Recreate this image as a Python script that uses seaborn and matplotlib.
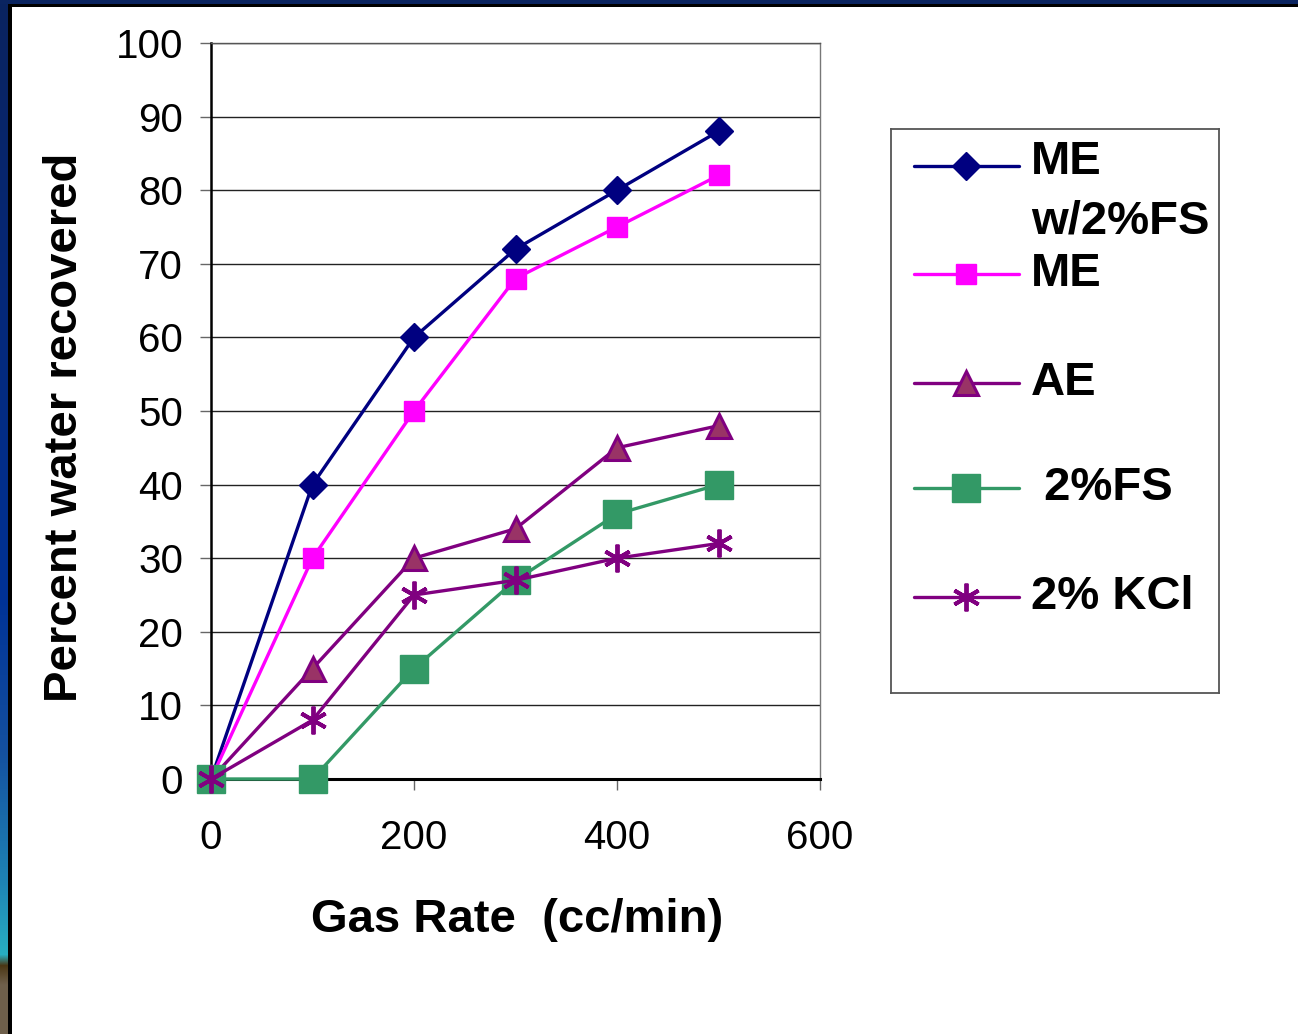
import numpy as np
import pandas as pd
import seaborn as sns
import matplotlib
matplotlib.use("Agg")
import matplotlib.pyplot as plt
from matplotlib.patches import Rectangle
from matplotlib.lines import Line2D

# Gas rate (cc/min) and percent water recovered for each treatment fluid
gas_rate = [0, 100, 200, 300, 400, 500]
me_fs = [0, 40, 60, 72, 80, 88]
me = [0, 30, 50, 68, 75, 82]
ae = [0, 15, 30, 34, 45, 48]
fs2 = [0, 0, 15, 27, 36, 40]
kcl2 = [0, 8, 25, 27, 30, 32]

series_names = ["ME w/2%FS", "ME", "AE", "2%FS", "2% KCl"]
legend_labels = ["ME\nw/2%FS", "ME", "AE", " 2%FS", "2% KCl"]
x_ticks = [0, 200, 400, 600]
y_ticks = list(range(0, 101, 10))

df = pd.DataFrame({
    "rate": gas_rate * 5,
    "pct": me_fs + me + ae + fs2 + kcl2,
    "fluid": sum([[n] * len(gas_rate) for n in series_names], []),
})

styles = {
    "ME w/2%FS": dict(color="#000080", marker="D", ms=14, mfc="#000080", mec="#000080", mew=1.0),
    "ME": dict(color="#FF00FF", marker="s", ms=15, mfc="#FF00FF", mec="#FF00FF", mew=1.0),
    "AE": dict(color="#800080", marker="^", ms=17, mfc="#993366", mec="#800080", mew=2.2),
    "2%FS": dict(color="#339966", marker="s", ms=20, mfc="#339966", mec="#339966", mew=1.0),
    "2% KCl": dict(color="#800080", marker=(6, 2, 0), ms=20, mfc="#800080", mec="#800080", mew=2.8),
}

sns.set_theme(style="white")
plt.rcParams["font.family"] = ["Liberation Sans", "DejaVu Sans"]

W, H = 1298, 1034
fig = plt.figure(figsize=(W / 100, H / 100), dpi=100)
fig.patch.set_facecolor("white")

# slide frame: gradient strip on the left, navy band on top, black inner rule
stops_y = np.array([0, 300, 600, 750, 880, 955, 966, 985, 1034]) / H
stops_c = np.array([
    [10, 35, 95], [5, 40, 120], [0, 50, 150], [20, 80, 160], [30, 130, 180],
    [40, 175, 195], [75, 55, 20], [110, 95, 75], [110, 95, 75]]) / 255.0
yy = np.linspace(0, 1, H)
strip = np.stack([np.interp(yy, stops_y, stops_c[:, k]) for k in range(3)], axis=-1)
strip = np.repeat(strip[:, None, :], 8, axis=1)
fig.figimage(strip, xo=0, yo=0, origin="upper", zorder=0)
fig.patches.append(Rectangle((0, 1 - 4 / H), 1, 4 / H, transform=fig.transFigure,
                             facecolor="#0a2460", edgecolor="none", zorder=1))
fig.patches.append(Rectangle((8 / W, 1 - 7 / H), 1, 3 / H, transform=fig.transFigure,
                             facecolor="black", edgecolor="none", zorder=1))
fig.patches.append(Rectangle((8 / W, 0), 4 / W, 1 - 4 / H, transform=fig.transFigure,
                             facecolor="black", edgecolor="none", zorder=1))

# main plot area
ax = fig.add_axes([211 / W, 1 - 779 / H, 609 / W, 736 / H])
ax.set_facecolor("white")
for name in series_names:
    st = styles[name]
    sub = df[df["fluid"] == name]
    sns.lineplot(data=sub, x="rate", y="pct", ax=ax, color=st["color"], lw=2.4,
                 marker=st["marker"], markersize=st["ms"], markerfacecolor=st["mfc"],
                 markeredgecolor=st["mec"], markeredgewidth=st["mew"],
                 legend=False, clip_on=False, zorder=3)

ax.set_xlim(0, 600)
ax.set_ylim(0, 100)
ax.set_xticks(x_ticks)
ax.set_yticks(y_ticks)
ax.set_xticklabels([str(v) for v in x_ticks])
ax.set_yticklabels([str(v) for v in y_ticks])
ax.yaxis.grid(True, color="#222222", lw=1.0)
ax.xaxis.grid(False)
ax.set_axisbelow(True)

ax.tick_params(axis="y", direction="out", length=8, width=1.0, color="#666666",
               labelsize=29, pad=12, left=True, labelcolor="black")
ax.tick_params(axis="x", direction="out", length=8, width=1.0, color="#666666",
               labelsize=29, pad=21, bottom=True, labelcolor="black")

ax.spines["left"].set_color("black")
ax.spines["left"].set_linewidth(1.8)
ax.spines["bottom"].set_color("black")
ax.spines["bottom"].set_linewidth(2.2)
ax.spines["right"].set_color("#777777")
ax.spines["right"].set_linewidth(1.0)
ax.spines["top"].set_color("#555555")
ax.spines["top"].set_linewidth(1.0)
for s in ax.spines.values():
    s.set_zorder(2.5)

ax.set_xlabel("Gas Rate  (cc/min)", fontsize=34, fontweight="bold", color="black")
ax.set_ylabel("Percent water recovered", fontsize=34, fontweight="bold", color="black")
ax.xaxis.set_label_coords(0.502, -0.192)
ax.xaxis.label.set_verticalalignment("center")
ax.yaxis.set_label_coords(-0.24, 0.478)
ax.yaxis.label.set_verticalalignment("center")

# legend panel
lx0, ly0, lx1, ly1 = 891, 129, 1219, 693
lax = fig.add_axes([lx0 / W, 1 - ly1 / H, (lx1 - lx0) / W, (ly1 - ly0) / H])
lax.set_xlim(lx0, lx1)
lax.set_ylim(ly1, ly0)
lax.set_xticks([])
lax.set_yticks([])
lax.set_facecolor("white")
for s in lax.spines.values():
    s.set_color("#555555")
    s.set_linewidth(1.3)

handle_y = [166, 274, 383, 488, 597]
for name, label, hy in zip(series_names, legend_labels, handle_y):
    st = styles[name]
    lax.add_line(Line2D([914, 1019], [hy, hy], color=st["color"], lw=2.4))
    lax.add_line(Line2D([966], [hy], marker=st["marker"], markersize=st["ms"],
                        markerfacecolor=st["mfc"], markeredgecolor=st["mec"],
                        markeredgewidth=st["mew"], lw=0))
    if "\n" in label:
        lax.text(1031, hy - 26, label, fontsize=34, fontweight="bold", color="black",
                 ha="left", va="top", linespacing=1.45)
    else:
        lax.text(1031, hy - 5, label, fontsize=34, fontweight="bold", color="black",
                 ha="left", va="center_baseline")

fig.savefig("out.png", dpi=100, facecolor="white")
